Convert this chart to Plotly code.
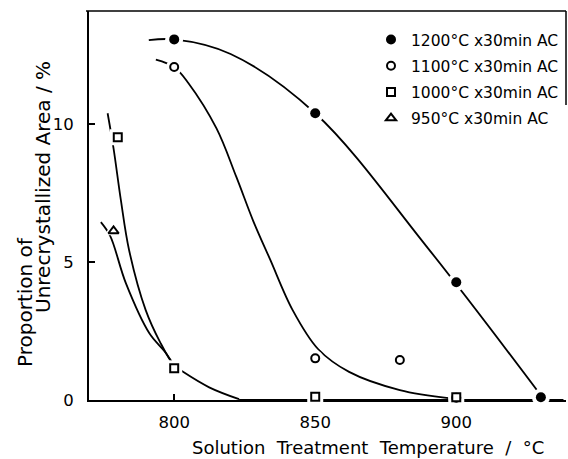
import plotly.graph_objects as go

# ---- measured data points ----
t1200_x = [800, 850, 900, 930]
t1200_y = [13.08, 10.4, 4.27, 0.1]

t1100_x = [800, 850, 880, 900]
t1100_y = [12.08, 1.51, 1.45, 0.08]

t1000_x = [780, 800, 850, 900]
t1000_y = [9.53, 1.15, 0.12, 0.1]

t950_x = [778.5]
t950_y = [6.13]

# ---- hand-drawn fitted curves (knots) ----
c1200_x = [791, 800, 820, 850, 890, 930.5]
c1200_y = [13.05, 13.08, 12.55, 10.4, 5.5, 0.1]

c1100_x = [793.5, 800, 805, 815, 822, 828, 834, 842, 851, 862, 880, 898]
c1100_y = [12.35, 12.08, 11.5, 9.85, 8.1, 6.5, 5.1, 3.26, 1.85, 1.02, 0.36, 0.06]

c1000_x = [776.4, 778.5, 781.1, 784, 789.9, 795, 800, 803, 812.4, 823]
c1000_y = [10.4, 9.13, 7.25, 5.44, 3.26, 2.1, 1.25, 1.03, 0.46, 0.03]

c1000_flat_x = [823, 850, 900, 938]
c1000_flat_y = [0, 0, 0, 0]

c950_x = [774, 777.3, 782.9, 791.2, 796.7, 800]
c950_y = [6.45, 5.95, 4.23, 2.42, 1.75, 1.25]

labels = ["1200°C x30min AC", "1100°C x30min AC", "1000°C x30min AC", "950°C x30min AC"]
x_ticks = [800, 850, 900]
y_ticks = [0, 5, 10]

FONT = "DejaVu Sans"
L, R, T, B, W, H = 89, 2, 11, 59, 568, 459
PW, PH = W - L - R, H - T - B


def px(xp):
    return (xp - L) / PW


def py(yp):
    return (H - B - yp) / PH


fig = go.Figure()

curve_line = dict(color="black", width=1.8)
for cx, cy, shp in [(c1200_x, c1200_y, "spline"), (c1100_x, c1100_y, "spline"),
                    (c1000_x, c1000_y, "spline"), (c1000_flat_x, c1000_flat_y, "linear"),
                    (c950_x, c950_y, "spline")]:
    fig.add_trace(go.Scatter(x=cx, y=cy, mode="lines", line=dict(shape=shp, smoothing=1.0, **curve_line),
                             showlegend=False, hoverinfo="skip", cliponaxis=False))

series = [
    (t1200_x, t1200_y, "circle", "black", 10, labels[0]),
    (t1100_x, t1100_y, "circle", "white", 8, labels[1]),
    (t1000_x, t1000_y, "square", "white", 8, labels[2]),
    (t950_x, t950_y, "triangle-up", "white", 9, labels[3]),
]

# white halos to produce the gaps of the hand-drawn lines
for sx, sy, sym, fill, sz, name in series:
    fig.add_trace(go.Scatter(x=sx, y=sy, mode="markers",
                             marker=dict(symbol=sym, size=sz + 8, color="white", line=dict(width=0)),
                             showlegend=False, hoverinfo="skip", cliponaxis=False))

for i, (sx, sy, sym, fill, sz, name) in enumerate(series):
    fig.add_trace(go.Scatter(x=sx, y=sy, mode="markers", name=name, legendgroup=f"g{i}",
                             marker=dict(symbol=sym, size=sz, color=fill,
                                         line=dict(color="black", width=0 if fill == "black" else 2)),
                             cliponaxis=False))

fig.update_layout(
    width=W, height=H,
    margin=dict(l=L, r=R, t=T, b=B, autoexpand=False),
    paper_bgcolor="white", plot_bgcolor="white",
    font=dict(family=FONT, size=16, color="black"),
    showlegend=True,
    legend=dict(x=px(371), y=py(23), xanchor="left", yanchor="top", bgcolor="rgba(0,0,0,0)",
                font=dict(family=FONT, size=15.5), traceorder="grouped", tracegroupgap=3),
    xaxis=dict(range=[769.8, 938.9], tickvals=x_ticks, ticktext=[str(v) for v in x_ticks],
               ticks="inside", ticklen=6, tickwidth=1.5, tickcolor="black", automargin=False,
               showline=True, linecolor="black", linewidth=1.8, showgrid=False, zeroline=False,
               tickfont=dict(family=FONT, size=16.5), ticklabelstandoff=6, layer="below traces"),
    yaxis=dict(range=[0, 14.11], tickvals=y_ticks, ticktext=[str(v) for v in y_ticks],
               ticks="inside", ticklen=6, tickwidth=1.5, tickcolor="black", automargin=False,
               showline=True, linecolor="black", linewidth=2, showgrid=False, zeroline=False,
               tickfont=dict(family=FONT, size=16.5), ticklabelstandoff=10, layer="below traces"),
    shapes=[
        dict(type="line", xref="paper", yref="paper", x0=px(86), x1=1.0, y0=1.0, y1=1.0,
             line=dict(color="black", width=1.5)),
        dict(type="line", xref="paper", yref="paper", x0=1.0, x1=1.0, y0=1.0, y1=py(105),
             line=dict(color="black", width=1.5)),
    ],
    annotations=[
        dict(text="Proportion of", xref="paper", yref="paper", x=px(25), y=py(302),
             textangle=-90, showarrow=False, font=dict(family=FONT, size=20), xanchor="center", yanchor="middle"),
        dict(text="Unrecrystallized Area / %", xref="paper", yref="paper", x=px(43),
             y=py(187), textangle=-90, showarrow=False, font=dict(family=FONT, size=20),
             xanchor="center", yanchor="middle"),
        dict(text="Solution\u00a0 Treatment\u00a0 Temperature\u00a0 /\u00a0 °C", xref="paper", yref="paper",
             x=px(368), y=py(448), showarrow=False, font=dict(family=FONT, size=18),
             xanchor="center", yanchor="middle"),
    ],
)

fig.write_html("out.html", config={"displayModeBar": False},
               post_script="document.body.style.margin='0';document.body.style.padding='0';")
